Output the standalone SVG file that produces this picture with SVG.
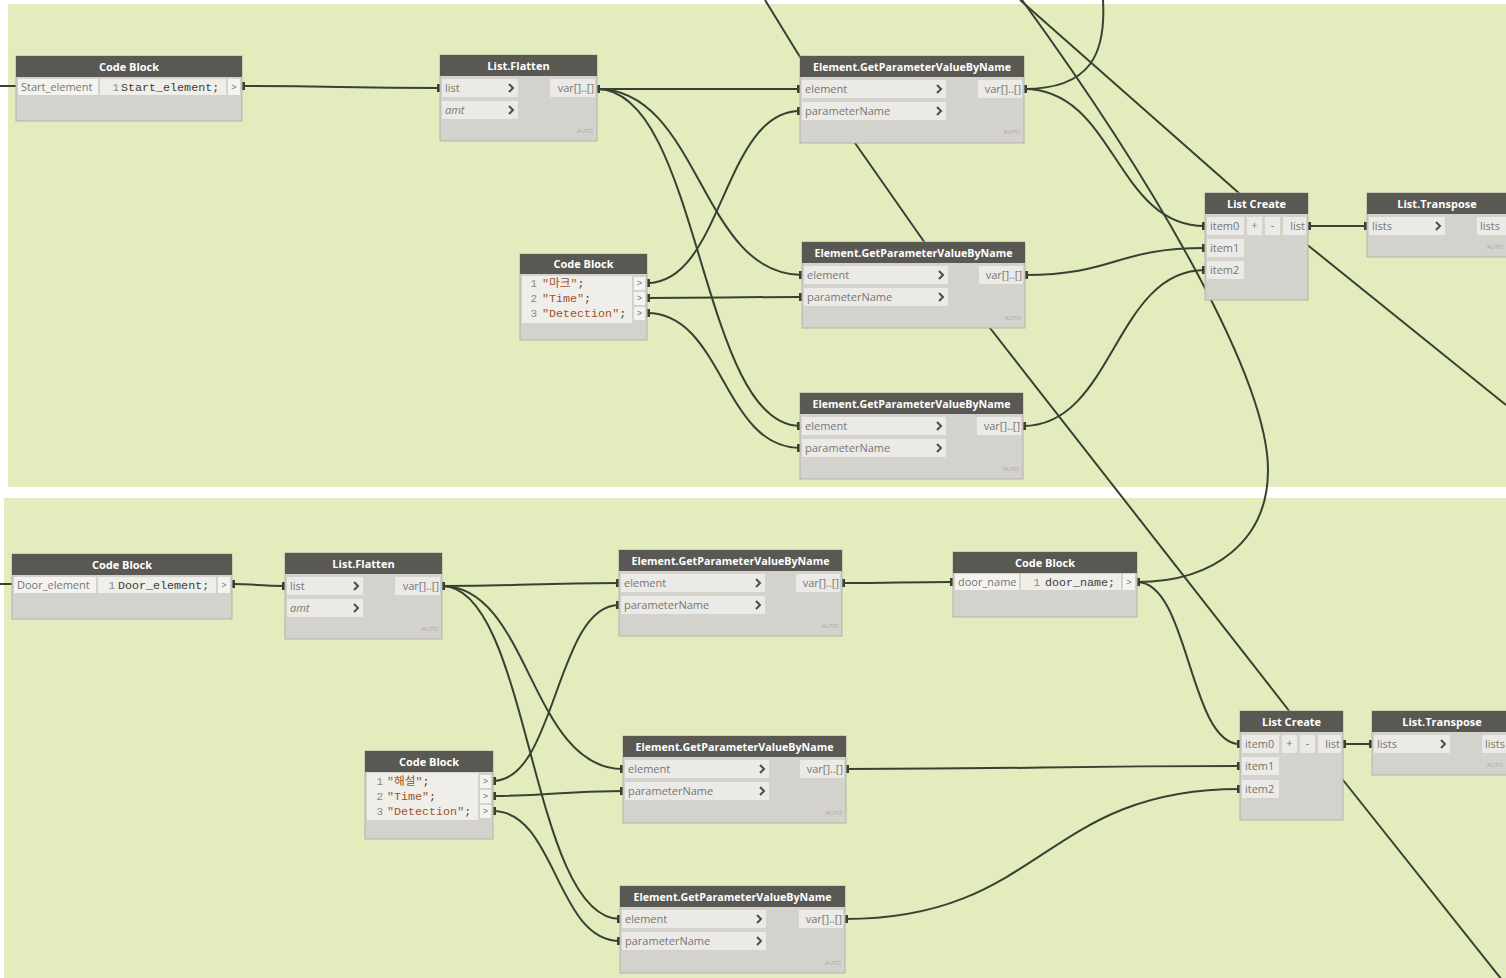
<svg xmlns="http://www.w3.org/2000/svg" width="1506" height="978" viewBox="0 0 1506 978">
  <style>
    .panel { fill: #e2ecbc; }
    .body { fill: #d4d2cc; stroke: #b4b2ab; stroke-width: 1; }
    .head { fill: #595853; }
    .title { font-family: "Open Sans", "Liberation Sans", sans-serif; font-size: 11px; font-weight: 700; fill: #ffffff; text-anchor: middle; }
    .port { fill: #ebeae6; }
    .lbl { fill: #f4f3f0; }
    .code { fill: #efeee9; }
    .pl { font-family: "Open Sans", "Liberation Sans", sans-serif; font-size: 11px; fill: #777672; }
    .it { font-style: italic; }
    .end { text-anchor: end; }
    .mono { font-family: "Liberation Mono", "Noto Sans CJK KR", monospace; font-size: 11.7px; fill: #3c3c3c; }
    .str { fill: #a0522d; }
    .num { font-family: "Liberation Mono", monospace; font-size: 11px; fill: #8a8884; text-anchor: end; }
    .gt { font-family: "Liberation Mono", monospace; font-size: 9px; fill: #777672; text-anchor: middle; }
    .auto { font-family: "Open Sans", "Liberation Sans", sans-serif; font-size: 6px; fill: #a9a7a1; text-anchor: end; }
    .chev { fill: none; stroke: #4e4d49; stroke-width: 2; }
    .wire { fill: none; stroke: #3a4133; stroke-width: 2; stroke-linejoin: round; }
    .pw { marker-start: url(#tab); marker-end: url(#tab); }
  </style>
  <defs>
    <marker id="tab" markerUnits="userSpaceOnUse" markerWidth="6" markerHeight="8" viewBox="0 0 6 8" refX="3" refY="4" orient="auto">
      <rect x="0" y="0" width="6" height="8" fill="#3a4133"/>
    </marker>
    <polyline id="chv" points="-3,-4 1,0 -3,4"/>
  </defs>

  <!-- canvas -->
  <rect width="1506" height="978" fill="#ffffff"/>
  <rect class="panel" x="8" y="4" width="1498" height="483"/>
  <rect class="panel" x="4" y="498" width="1502" height="480"/>

  <!-- connectors -->
  <g id="connectors">
    <!-- upper graph -->
    <path class="wire" d="M0,86 L16,86"/>
    <path class="wire pw" d="M242,86 C340,86 340,88 440,88"/>
    <path class="wire pw" d="M597,89 C700,89 700,89 800,89"/>
    <path class="wire pw" d="M597,89 C700,89 700,275 802,275"/>
    <path class="wire pw" d="M597,89 C700,89 700,426 800,426"/>
    <path class="wire pw" d="M647,283 C723,283 723,111 800,111"/>
    <path class="wire pw" d="M647,298 C723,298 723,297 802,297"/>
    <path class="wire pw" d="M647,313 C723,313 723,448 800,448"/>
    <path class="wire pw" d="M1024,89 C1115,89 1115,226 1205,226"/>
    <path class="wire" d="M1024,89 C1092,89 1106,52 1103,0"/>
    <path class="wire pw" d="M1025,275 C1115,275 1115,248 1205,248"/>
    <path class="wire pw" d="M1023,426 C1114,426 1114,270 1205,270"/>
    <path class="wire pw" d="M1308,226 L1367,226"/>
    <!-- long wires passing behind nodes -->
    <path class="wire" d="M765,0 L800,57 L855,143 L925,243 L990,328 L1290,712 L1343,780 L1506,985"/>
    <path class="wire" d="M1020,0 L1240,194 L1310,247 L1506,405"/>
    <path class="wire" d="M1137,582 C1215,582 1268,540 1268,470 C1268,380 1160,190 1022,0"/>
    <!-- lower graph -->
    <path class="wire" d="M0,584 L12,584"/>
    <path class="wire pw" d="M232,584 C258,584 258,586 285,586"/>
    <path class="wire pw" d="M442,586 C530,586 530,583 619,583"/>
    <path class="wire pw" d="M442,586 C530,586 530,769 623,769"/>
    <path class="wire pw" d="M442,586 C530,586 530,919 620,919"/>
    <path class="wire pw" d="M493,781 C556,781 556,605 619,605"/>
    <path class="wire pw" d="M493,796 C556,796 556,791 623,791"/>
    <path class="wire pw" d="M493,811 C556,811 556,941 620,941"/>
    <path class="wire pw" d="M842,583 C898,583 898,582 953,582"/>
    <path class="wire pw" d="M1137,582 C1189,582 1189,744 1240,744"/>
    <path class="wire pw" d="M846,769 C1043,769 1043,766 1240,766"/>
    <path class="wire pw" d="M845,919 C1043,919 1043,789 1240,789"/>
    <path class="wire pw" d="M1343,744 L1372,744"/>
  </g>

  <!-- upper graph nodes -->
  <g id="codeblock-start" transform="translate(16,56)">
    <rect class="body" width="226" height="65"/>
    <rect class="head" width="226" height="21"/>
    <text class="title" x="113" y="15">Code Block</text>
    <rect class="lbl" x="2" y="23" width="80" height="16"/>
    <text class="pl" x="5" y="35">Start_element</text>
    <rect class="code" x="84" y="23" width="126" height="16"/>
    <text class="num" x="103" y="35">1</text>
    <text class="mono" x="105" y="35">Start_element;</text>
    <rect class="lbl" x="212" y="23" width="12" height="16"/>
    <text class="gt" x="218" y="34">&gt;</text>
  </g>

  <g id="flatten-top" transform="translate(440,55)">
    <rect class="body" width="157" height="86"/>
    <rect class="head" width="157" height="21"/>
    <text class="title" x="78.5" y="15">List.Flatten</text>
    <rect class="port" x="2" y="24" width="76" height="18"/>
    <text class="pl" x="5" y="37">list</text>
    <use href="#chv" class="chev" x="72" y="33"/>
    <rect class="port" x="2" y="46" width="76" height="18"/>
    <text class="pl it" x="5" y="59">amt</text>
    <use href="#chv" class="chev" x="72" y="55"/>
    <rect class="port" x="110" y="24" width="45" height="18"/>
    <text class="pl end" x="154" y="37">var[]..[]</text>
    <text class="auto" x="153" y="78">AUTO</text>
  </g>

  <g id="codeblock-params-top" transform="translate(520,254)">
    <rect class="body" width="127" height="86"/>
    <rect class="head" width="127" height="20"/>
    <text class="title" x="63.5" y="14">Code Block</text>
    <rect class="code" x="2" y="22" width="110" height="47"/>
    <text class="num" x="17" y="33">1</text>
    <text class="mono" x="22" y="33"><tspan class="str">"마크"</tspan>;</text>
    <text class="num" x="17" y="48">2</text>
    <text class="mono" x="22" y="48"><tspan class="str">"Time"</tspan>;</text>
    <text class="num" x="17" y="63">3</text>
    <text class="mono" x="22" y="63"><tspan class="str">"Detection"</tspan>;</text>
    <rect class="lbl" x="114" y="23" width="11" height="13"/>
    <text class="gt" x="119.5" y="32">&gt;</text>
    <rect class="lbl" x="114" y="38" width="11" height="13"/>
    <text class="gt" x="119.5" y="47">&gt;</text>
    <rect class="lbl" x="114" y="53" width="11" height="13"/>
    <text class="gt" x="119.5" y="62">&gt;</text>
  </g>

  <g id="getparam-top-1" transform="translate(800,56)">
    <rect class="body" width="224" height="87"/>
    <rect class="head" width="224" height="21"/>
    <text class="title" x="112" y="15" textLength="198" lengthAdjust="spacingAndGlyphs">Element.GetParameterValueByName</text>
    <rect class="port" x="2" y="24" width="144" height="18"/>
    <text class="pl" x="5" y="37">element</text>
    <use href="#chv" class="chev" x="140" y="33"/>
    <rect class="port" x="2" y="46" width="144" height="18"/>
    <text class="pl" x="5" y="59">parameterName</text>
    <use href="#chv" class="chev" x="140" y="55"/>
    <rect class="port" x="178" y="24" width="44" height="18"/>
    <text class="pl end" x="221" y="37">var[]..[]</text>
    <text class="auto" x="220" y="78">AUTO</text>
  </g>

  <g id="getparam-top-2" transform="translate(802,242)">
    <rect class="body" width="223" height="86"/>
    <rect class="head" width="223" height="21"/>
    <text class="title" x="111.5" y="15" textLength="198" lengthAdjust="spacingAndGlyphs">Element.GetParameterValueByName</text>
    <rect class="port" x="2" y="24" width="144" height="18"/>
    <text class="pl" x="5" y="37">element</text>
    <use href="#chv" class="chev" x="140" y="33"/>
    <rect class="port" x="2" y="46" width="144" height="18"/>
    <text class="pl" x="5" y="59">parameterName</text>
    <use href="#chv" class="chev" x="140" y="55"/>
    <rect class="port" x="177" y="24" width="44" height="18"/>
    <text class="pl end" x="220" y="37">var[]..[]</text>
    <text class="auto" x="219" y="78">AUTO</text>
  </g>

  <g id="getparam-top-3" transform="translate(800,393)">
    <rect class="body" width="223" height="86"/>
    <rect class="head" width="223" height="21"/>
    <text class="title" x="111.5" y="15" textLength="198" lengthAdjust="spacingAndGlyphs">Element.GetParameterValueByName</text>
    <rect class="port" x="2" y="24" width="144" height="18"/>
    <text class="pl" x="5" y="37">element</text>
    <use href="#chv" class="chev" x="140" y="33"/>
    <rect class="port" x="2" y="46" width="144" height="18"/>
    <text class="pl" x="5" y="59">parameterName</text>
    <use href="#chv" class="chev" x="140" y="55"/>
    <rect class="port" x="177" y="24" width="44" height="18"/>
    <text class="pl end" x="220" y="37">var[]..[]</text>
    <text class="auto" x="219" y="78">AUTO</text>
  </g>

  <g id="listcreate-top" transform="translate(1205,193)">
    <rect class="body" width="103" height="107"/>
    <rect class="head" width="103" height="21"/>
    <text class="title" x="51.5" y="15">List Create</text>
    <rect class="port" x="2" y="24" width="37" height="18"/>
    <text class="pl" x="5" y="37">item0</text>
    <rect class="port" x="42" y="24" width="15" height="18"/>
    <text class="pl" x="49.5" y="36" text-anchor="middle">+</text>
    <rect class="port" x="60" y="24" width="15" height="18"/>
    <text class="pl" x="67.5" y="36" text-anchor="middle">-</text>
    <rect class="port" x="78" y="24" width="23" height="18"/>
    <text class="pl end" x="100" y="37">list</text>
    <rect class="port" x="2" y="46" width="37" height="18"/>
    <text class="pl" x="5" y="59">item1</text>
    <rect class="port" x="2" y="68" width="37" height="18"/>
    <text class="pl" x="5" y="81">item2</text>
  </g>

  <g id="transpose-top" transform="translate(1367,193)">
    <rect class="body" width="142" height="64"/>
    <rect class="head" width="142" height="21"/>
    <text class="title" x="70" y="15">List.Transpose</text>
    <rect class="port" x="2" y="24" width="76" height="18"/>
    <text class="pl" x="5" y="37">lists</text>
    <use href="#chv" class="chev" x="72" y="33"/>
    <rect class="port" x="110" y="24" width="32" height="18"/>
    <text class="pl" x="113" y="37">lists</text>
    <text class="auto" x="136" y="56">AUTO</text>
  </g>

  <!-- lower graph nodes -->
  <g id="codeblock-door" transform="translate(12,554)">
    <rect class="body" width="220" height="65"/>
    <rect class="head" width="220" height="21"/>
    <text class="title" x="110" y="15">Code Block</text>
    <rect class="lbl" x="2" y="23" width="82" height="16"/>
    <text class="pl" x="5" y="35">Door_element</text>
    <rect class="code" x="86" y="23" width="118" height="16"/>
    <text class="num" x="103" y="35">1</text>
    <text class="mono" x="106" y="35">Door_element;</text>
    <rect class="lbl" x="206" y="23" width="12" height="16"/>
    <text class="gt" x="212" y="34">&gt;</text>
  </g>

  <g id="flatten-bottom" transform="translate(285,553)">
    <rect class="body" width="157" height="86"/>
    <rect class="head" width="157" height="21"/>
    <text class="title" x="78.5" y="15">List.Flatten</text>
    <rect class="port" x="2" y="24" width="76" height="18"/>
    <text class="pl" x="5" y="37">list</text>
    <use href="#chv" class="chev" x="72" y="33"/>
    <rect class="port" x="2" y="46" width="76" height="18"/>
    <text class="pl it" x="5" y="59">amt</text>
    <use href="#chv" class="chev" x="72" y="55"/>
    <rect class="port" x="110" y="24" width="45" height="18"/>
    <text class="pl end" x="154" y="37">var[]..[]</text>
    <text class="auto" x="153" y="78">AUTO</text>
  </g>

  <g id="codeblock-params-bottom" transform="translate(365,751)">
    <rect class="body" width="128" height="88"/>
    <rect class="head" width="128" height="21"/>
    <text class="title" x="64" y="15">Code Block</text>
    <rect class="code" x="2" y="22" width="111" height="47"/>
    <text class="num" x="18" y="34">1</text>
    <text class="mono" x="22" y="34"><tspan class="str">"해설"</tspan>;</text>
    <text class="num" x="18" y="49">2</text>
    <text class="mono" x="22" y="49"><tspan class="str">"Time"</tspan>;</text>
    <text class="num" x="18" y="64">3</text>
    <text class="mono" x="22" y="64"><tspan class="str">"Detection"</tspan>;</text>
    <rect class="lbl" x="115" y="24" width="11" height="13"/>
    <text class="gt" x="120.5" y="33">&gt;</text>
    <rect class="lbl" x="115" y="39" width="11" height="13"/>
    <text class="gt" x="120.5" y="48">&gt;</text>
    <rect class="lbl" x="115" y="54" width="11" height="13"/>
    <text class="gt" x="120.5" y="63">&gt;</text>
  </g>

  <g id="getparam-bottom-1" transform="translate(619,550)">
    <rect class="body" width="223" height="86"/>
    <rect class="head" width="223" height="21"/>
    <text class="title" x="111.5" y="15" textLength="198" lengthAdjust="spacingAndGlyphs">Element.GetParameterValueByName</text>
    <rect class="port" x="2" y="24" width="144" height="18"/>
    <text class="pl" x="5" y="37">element</text>
    <use href="#chv" class="chev" x="140" y="33"/>
    <rect class="port" x="2" y="46" width="144" height="18"/>
    <text class="pl" x="5" y="59">parameterName</text>
    <use href="#chv" class="chev" x="140" y="55"/>
    <rect class="port" x="177" y="24" width="44" height="18"/>
    <text class="pl end" x="220" y="37">var[]..[]</text>
    <text class="auto" x="219" y="78">AUTO</text>
  </g>

  <g id="codeblock-doorname" transform="translate(953,552)">
    <rect class="body" width="184" height="65"/>
    <rect class="head" width="184" height="21"/>
    <text class="title" x="92" y="15">Code Block</text>
    <rect class="lbl" x="2" y="22" width="64" height="16"/>
    <text class="pl" x="5" y="34">door_name</text>
    <rect class="code" x="68" y="22" width="100" height="16"/>
    <text class="num" x="87" y="34">1</text>
    <text class="mono" x="92" y="34">door_name;</text>
    <rect class="lbl" x="170" y="22" width="12" height="16"/>
    <text class="gt" x="176" y="33">&gt;</text>
  </g>

  <g id="getparam-bottom-2" transform="translate(623,736)">
    <rect class="body" width="223" height="87"/>
    <rect class="head" width="223" height="21"/>
    <text class="title" x="111.5" y="15" textLength="198" lengthAdjust="spacingAndGlyphs">Element.GetParameterValueByName</text>
    <rect class="port" x="2" y="24" width="144" height="18"/>
    <text class="pl" x="5" y="37">element</text>
    <use href="#chv" class="chev" x="140" y="33"/>
    <rect class="port" x="2" y="46" width="144" height="18"/>
    <text class="pl" x="5" y="59">parameterName</text>
    <use href="#chv" class="chev" x="140" y="55"/>
    <rect class="port" x="177" y="24" width="44" height="18"/>
    <text class="pl end" x="220" y="37">var[]..[]</text>
    <text class="auto" x="219" y="79">AUTO</text>
  </g>

  <g id="getparam-bottom-3" transform="translate(620,886)">
    <rect class="body" width="225" height="87"/>
    <rect class="head" width="225" height="21"/>
    <text class="title" x="112.5" y="15" textLength="198" lengthAdjust="spacingAndGlyphs">Element.GetParameterValueByName</text>
    <rect class="port" x="2" y="24" width="144" height="18"/>
    <text class="pl" x="5" y="37">element</text>
    <use href="#chv" class="chev" x="140" y="33"/>
    <rect class="port" x="2" y="46" width="144" height="18"/>
    <text class="pl" x="5" y="59">parameterName</text>
    <use href="#chv" class="chev" x="140" y="55"/>
    <rect class="port" x="179" y="24" width="44" height="18"/>
    <text class="pl end" x="222" y="37">var[]..[]</text>
    <text class="auto" x="221" y="79">AUTO</text>
  </g>

  <g id="listcreate-bottom" transform="translate(1240,711)">
    <rect class="body" width="103" height="109"/>
    <rect class="head" width="103" height="21"/>
    <text class="title" x="51.5" y="15">List Create</text>
    <rect class="port" x="2" y="24" width="37" height="18"/>
    <text class="pl" x="5" y="37">item0</text>
    <rect class="port" x="42" y="24" width="15" height="18"/>
    <text class="pl" x="49.5" y="36" text-anchor="middle">+</text>
    <rect class="port" x="60" y="24" width="15" height="18"/>
    <text class="pl" x="67.5" y="36" text-anchor="middle">-</text>
    <rect class="port" x="78" y="24" width="23" height="18"/>
    <text class="pl end" x="100" y="37">list</text>
    <rect class="port" x="2" y="46" width="37" height="18"/>
    <text class="pl" x="5" y="59">item1</text>
    <rect class="port" x="2" y="69" width="37" height="18"/>
    <text class="pl" x="5" y="82">item2</text>
  </g>

  <g id="transpose-bottom" transform="translate(1372,711)">
    <rect class="body" width="142" height="64"/>
    <rect class="head" width="142" height="21"/>
    <text class="title" x="70" y="15">List.Transpose</text>
    <rect class="port" x="2" y="24" width="76" height="18"/>
    <text class="pl" x="5" y="37">lists</text>
    <use href="#chv" class="chev" x="72" y="33"/>
    <rect class="port" x="110" y="24" width="32" height="18"/>
    <text class="pl" x="113" y="37">lists</text>
    <text class="auto" x="131" y="56">AUTO</text>
  </g>
</svg>
